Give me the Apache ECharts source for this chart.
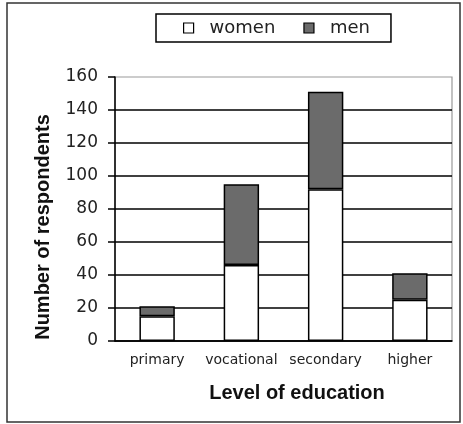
<!DOCTYPE html>
<html>
<head>
<meta charset="utf-8">
<script src="https://cdn.jsdelivr.net/npm/echarts@6/dist/echarts.min.js"></script>
<style>
html,body{margin:0;padding:0;background:#fff;}
#c{width:463px;height:424px;}
</style>
</head>
<body>
<div id="c"></div>
<script>
const categories = ['primary', 'vocational', 'secondary', 'higher'];
const women = [15, 46, 92, 25];
const men = [6, 49, 59, 16];
const yTicks = [0, 20, 40, 60, 80, 100, 120, 140, 160];

const chart = echarts.init(document.getElementById('c'), null, {renderer: 'canvas'});
chart.setOption({
  backgroundColor: '#fff',
  animation: false,
  grid: {left: 115, top: 77, right: 11, bottom: 83, show: true, borderColor: '#999', borderWidth: 1.2},
  legend: {
    left: 156, top: 14,
    borderColor: '#000', borderWidth: 1.5,
    padding: [5, 21, 5, 27],
    itemWidth: 10, itemHeight: 10, itemGap: 28,
    icon: 'rect',
    itemStyle: {borderWidth: 1.2},
    textStyle: {fontFamily: 'DejaVu Sans', fontSize: 18, color: '#222', padding: [0, 0, 0, 11]},
    data: ['women', 'men']
  },
  xAxis: {
    type: 'category',
    data: categories,
    axisLine: {lineStyle: {color: '#000', width: 1.5}},
    axisTick: {length: 6, lineStyle: {color: '#000', width: 1.5}},
    axisLabel: {interval: 0, hideOverlap: false, fontFamily: 'DejaVu Sans', fontSize: 14, color: '#222', margin: 12}
  },
  yAxis: {
    type: 'value',
    min: yTicks[0], max: yTicks[yTicks.length - 1], interval: 20,
    axisLine: {show: true, lineStyle: {color: '#000', width: 1.5}},
    axisTick: {show: true, length: 7, lineStyle: {color: '#000', width: 1.5}},
    axisLabel: {fontFamily: 'DejaVu Sans', fontSize: 17, color: '#222', margin: 17},
    splitLine: {show: true, showMaxLine: false, lineStyle: {color: '#000', width: 1.5}}
  },
  series: [
    {name: 'women', type: 'bar', stack: 'a', data: women, barWidth: '42%',
     itemStyle: {color: '#fff', borderColor: '#000', borderWidth: 1.5}},
    {name: 'men', type: 'bar', stack: 'a', data: men, barWidth: '42%',
     itemStyle: {color: '#6b6b6b', borderColor: '#000', borderWidth: 1.5}}
  ],
  graphic: [
    {type: 'rect', shape: {x: 7, y: 3, width: 453, height: 419}, style: {fill: 'none', stroke: '#333', lineWidth: 1.5}, z: -1},
    {type: 'text', x: 43, y: 227, rotation: Math.PI / 2,
     style: {text: 'Number of respondents', font: 'bold 20px "Liberation Sans"', fill: '#111', textAlign: 'center', textVerticalAlign: 'middle'}},
    {type: 'text', x: 297, y: 393,
     style: {text: 'Level of education', font: 'bold 20px "Liberation Sans"', fill: '#111', textAlign: 'center', textVerticalAlign: 'middle'}}
  ]
});
</script>
</body>
</html>
